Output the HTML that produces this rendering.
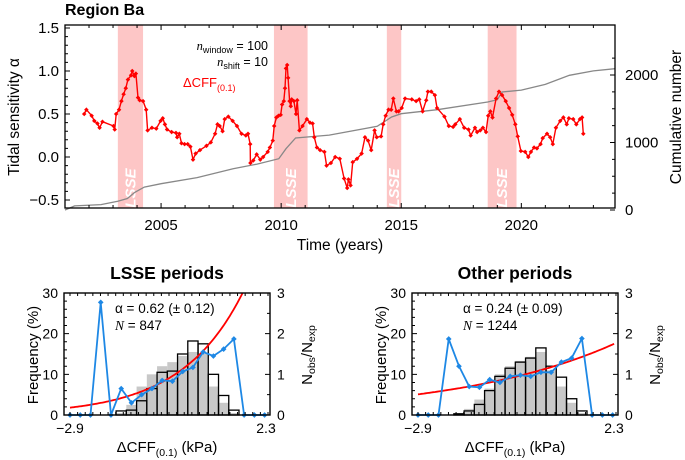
<!DOCTYPE html>
<html><head><meta charset="utf-8"><style>
body{margin:0;background:#fff;}
svg{display:block;font-family:"Liberation Sans",sans-serif;}
</style></head><body>
<svg id="s" width="685" height="460" viewBox="0 0 685 460"></svg>
<script>
// ---- top chart data ----
const lsseStart=[2003.2,2009.7,2014.4,2018.6];
const lsseEnd=[2004.25,2011.1,2015.0,2019.8];
const alphaYears=[2001.80,2001.89,2002.11,2002.22,2002.35,2002.44,2002.56,2003.02,2003.07,2003.13,2003.25,2003.35,2003.44,2003.53,2003.62,2003.75,2003.80,2003.89,2003.95,2004.04,2004.11,2004.25,2004.38,2004.44,2004.62,2004.80,2004.98,2005.07,2005.16,2005.25,2005.44,2005.62,2005.67,2005.76,2005.85,2005.98,2006.11,2006.22,2006.33,2006.44,2006.62,2006.89,2007.07,2007.25,2007.35,2007.44,2007.56,2007.65,2007.80,2007.98,2008.16,2008.35,2008.53,2008.62,2008.71,2008.72,2008.84,2008.98,2009.13,2009.25,2009.44,2009.53,2009.65,2009.71,2009.80,2009.89,2009.98,2010.04,2010.11,2010.16,2010.20,2010.25,2010.29,2010.35,2010.40,2010.44,2010.53,2010.62,2010.67,2010.76,2010.89,2011.07,2011.20,2011.31,2011.38,2011.49,2011.62,2011.80,2011.89,2012.07,2012.25,2012.44,2012.62,2012.75,2012.80,2012.89,2012.98,2013.16,2013.35,2013.49,2013.62,2013.75,2013.89,2013.98,2014.16,2014.25,2014.35,2014.47,2014.58,2014.67,2014.80,2014.89,2015.02,2015.16,2015.44,2015.62,2015.75,2015.89,2016.04,2016.11,2016.25,2016.40,2016.49,2016.80,2016.98,2017.16,2017.25,2017.44,2017.62,2017.80,2017.89,2018.07,2018.16,2018.29,2018.40,2018.53,2018.62,2018.71,2018.80,2018.95,2019.07,2019.20,2019.35,2019.49,2019.62,2019.75,2019.85,2019.98,2020.16,2020.29,2020.40,2020.53,2020.65,2020.80,2020.89,2021.07,2021.20,2021.31,2021.44,2021.62,2021.75,2021.89,2021.98,2022.16,2022.29,2022.44,2022.53,2022.58];
const alphaValues=[0.5,0.55,0.48,0.42,0.39,0.34,0.41,0.36,0.32,0.5,0.55,0.65,0.73,0.8,0.9,0.95,1.0,0.94,0.97,0.69,0.66,0.65,0.55,0.31,0.34,0.33,0.42,0.45,0.38,0.32,0.29,0.28,0.23,0.27,0.16,0.15,0.15,0.12,-0.03,0.04,0.08,0.13,0.17,0.27,0.38,0.36,0.3,0.44,0.47,0.42,0.36,0.27,0.25,0.27,0.15,-0.07,-0.04,0.03,-0.03,0.0,0.06,0.11,0.19,0.36,0.46,0.48,0.49,0.61,0.65,0.8,1.03,1.07,0.92,0.65,0.59,0.67,0.65,0.5,0.66,0.31,0.36,0.44,0.4,0.39,0.23,0.11,0.08,0.06,-0.1,-0.07,0.0,-0.02,-0.25,-0.36,-0.26,-0.33,-0.06,-0.02,0.04,0.23,0.19,0.08,0.31,0.23,0.24,0.38,0.48,0.55,0.55,0.68,0.53,0.53,0.57,0.68,0.67,0.65,0.67,0.53,0.66,0.76,0.76,0.72,0.57,0.47,0.36,0.35,0.38,0.44,0.34,0.32,0.25,0.34,0.29,0.31,0.34,0.29,0.48,0.53,0.46,0.68,0.76,0.72,0.65,0.57,0.49,0.38,0.24,0.07,0.06,0.0,0.06,0.11,0.1,0.15,0.22,0.27,0.23,0.15,0.34,0.42,0.46,0.38,0.45,0.44,0.38,0.44,0.46,0.27];
const cumYears=[2001.0,2001.4,2002.5,2003.2,2003.6,2003.9,2004.3,2005.0,2006.5,2008.0,2009.0,2009.9,2010.2,2010.6,2012.0,2014.0,2014.6,2015.0,2016.5,2018.6,2019.0,2019.2,2020.0,2021.0,2022.0,2023.0,2023.9];
const cumValues=[0,60,80,130,170,260,340,390,480,612,680,760,908,1067,1110,1240,1378,1427,1486,1600,1634,1748,1777,1860,1995,2060,2093];
const alphaTicks=[-0.5,0.0,0.5,1.0,1.5];
const alphaTickLabels=["\u22120.5","0.0","0.5","1.0","1.5"];
const yearTicks=[2005,2010,2015,2020];
const cumTicks=[0,1000,2000];

// ---- bottom panels data ----
const binIndex=[0,1,2,3,4,5,6,7,8,9,10,11,12,13,14,15,16,17,18,19];
const lsseRatio=[0,0,0,2.77,0,0.65,0.3,0.5,0.65,0.85,0.83,1.07,1.17,1.55,1.45,1.62,1.87,0,0,0];
const lsseObs=[0,0,0,0,0,1,1.2,3.5,6.5,10.5,10.8,15,18.2,17.5,10,4.8,1.2,0,0,0];
const lsseExp=[0,0,0,0,0,0.5,2.5,7,10,12,13,14.5,15.5,15,7,3,0.5,0,0,0];
const otherRatio=[0,0,0,1.87,1.2,0.7,0.68,0.87,0.8,0.95,0.98,0.95,1.05,1.05,1.3,1.4,1.88,0,0,0];
const otherObs=[0,0,0,0,0.3,1.0,2.6,6,9.5,11.5,13,14,16.5,12,9.3,4,1,0,0,0];
const otherExp=[0,0,0,0,0.2,1.5,3.8,6.5,10,12,13.3,14.3,15.5,11,7,3,0.5,0,0,0];
const fitAlpha=[0.62,0.24];
const fitScale=[1.09,1.02];

(function(){
const NS="http://www.w3.org/2000/svg";
const svg=document.getElementById('s');
function el(tag,attrs,parent){const e=document.createElementNS(NS,tag);for(const k in attrs)e.setAttribute(k,attrs[k]);(parent||svg).appendChild(e);return e;}
function txt(s,x,y,attrs,parent){const t=el('text',Object.assign({x:x,y:y},attrs),parent);t.textContent=String(s);return t;}

const L=65,R=615,T=25,B=208;
const xY=y=>L+(y-2001.0)*(R-L)/(2023.9-2001.0);
const yA=a=>157-a*86;
const yC=c=>210-c*0.0675;
const topG=el('g',{});


for(let i=0;i<lsseStart.length;i++){
  const r=el('rect',{x:xY(lsseStart[i]),y:T,width:xY(lsseEnd[i])-xY(lsseStart[i]),height:B-T,fill:'#fdc6c6'},topG);
  
  
  const cx=(xY(lsseStart[i])+xY(lsseEnd[i]))/2;
  const t=txt('LSSE',cx+5,188,{fill:'#fff','font-size':'15','font-weight':'bold','font-style':'italic','text-anchor':'middle',transform:`rotate(-90 ${cx+5} 188)`},topG);
  
  
}
let d='';
for(let i=0;i<cumYears.length;i++){d+=(i?'L':'M')+xY(cumYears[i]).toFixed(1)+' '+yC(cumValues[i]).toFixed(1);}
const cl=el('path',{d:d,fill:'none',stroke:'#888','stroke-width':'1.3'},topG);


d='';
for(let i=0;i<alphaYears.length;i++){d+=(i?'L':'M')+xY(alphaYears[i]).toFixed(1)+' '+yA(alphaValues[i]).toFixed(1);}
const al=el('path',{d:d,fill:'none',stroke:'#f00','stroke-width':'1.4'},topG);


for(let i=0;i<alphaYears.length;i++){
  const p=el('rect',{x:xY(alphaYears[i])-1.6,y:yA(alphaValues[i])-1.6,width:3.2,height:3.2,fill:'#f00',transform:`rotate(45 ${xY(alphaYears[i])} ${yA(alphaValues[i])})`},topG);
  
  
}
const fr=el('rect',{x:L,y:T,width:R-L,height:B-T,fill:'none',stroke:'#000','stroke-width':'1.3'},topG);


let tk='';
for(let y=2001;y<=2023;y++){const x=xY(y);const l=(y%5==0)?5:3;tk+=`M${x} ${B}v${-l}M${x} ${T}v${l}`;}
for(let k=0;k<=20;k++){const a=-0.5+k*0.1;const y=yA(a);const major=(k%5==0);tk+=`M${L} ${y}h${major?5:3}`;}
for(let c=0;c<=2400;c+=250){const y=yC(c);tk+=`M${R} ${y}h${c%1000==0?-5:-3}`;}
el('path',{d:tk,stroke:'#000','stroke-width':'1'},topG);
alphaTicks.forEach((a,i)=>{const t=txt(alphaTickLabels[i],L-6,yA(a)+5,{'font-size':'15','text-anchor':'end'},topG);});
yearTicks.forEach(y=>{const t=txt(y,xY(y),230,{'font-size':'15','text-anchor':'middle'},topG);});
cumTicks.forEach(c=>{const t=txt(c,R+10,yC(c)+5,{'font-size':'15'},topG);});
})();
</script>
<script>
(function(){
const svg=document.getElementById('s');
function add(html){svg.insertAdjacentHTML('beforeend',html);}
add('<text x="65" y="15" font-size="16" font-weight="bold">Region Ba</text>');
add('<text x="0" y="0" font-size="15.5" text-anchor="middle" transform="translate(19 117) rotate(-90)">Tidal sensitivity α</text>');
add('<text x="0" y="0" font-size="15.5" text-anchor="middle" transform="translate(681 117) rotate(-90)">Cumulative number</text>');
add('<text x="340" y="250" font-size="15.5" text-anchor="middle">Time (years)</text>');
add('<text x="268" y="50" font-size="12.5" text-anchor="end"><tspan font-style="italic" font-family="Liberation Serif">n</tspan><tspan font-size="9" dy="3">window</tspan><tspan dy="-3"> = 100</tspan></text>');
add('<text x="268" y="66" font-size="12.5" text-anchor="end"><tspan font-style="italic" font-family="Liberation Serif">n</tspan><tspan font-size="9" dy="3">shift</tspan><tspan dy="-3"> = 10</tspan></text>');
add('<text x="183" y="87" font-size="13" fill="#f00">ΔCFF<tspan font-size="9" dy="4">(0.1)</tspan></text>');
})();
</script>
<script>
(function(){
const NS="http://www.w3.org/2000/svg";
const svg=document.getElementById('s');
function el(tag,attrs,parent){const e=document.createElementNS(NS,tag);for(const k in attrs)e.setAttribute(k,attrs[k]);(parent||svg).appendChild(e);return e;}
const panels=[
 {L:64,title:'LSSE periods',ratio:lsseRatio,obs:lsseObs,exp:lsseExp,a:fitAlpha[0],c:fitScale[0],ann1:'α = 0.62 (± 0.12)',ann2:'847',name:'lsse-panel'},
 {L:412,title:'Other periods',ratio:otherRatio,obs:otherObs,exp:otherExp,a:fitAlpha[1],c:fitScale[1],ann1:'α = 0.24 (± 0.09)',ann2:'1244',name:'other-panel'}];
const T=293,B=415,W=206;
panels.forEach(p=>{
  const g=el('g',{});
  
  
  const L=p.L,R=L+W;
  const xK=k=>L+6+(k+2.9)*(198/5.2);
  const binK=i=>-2.9+i*0.269;
  const bw=0.269*198/5.2;
  const yF=f=>B-f*(B-T)/30;
  const yR=r=>B-r*(B-T)/3;
  binIndex.forEach(i=>{
    if(p.exp[i]>0){const r=el('rect',{x:xK(binK(i))-bw/2,y:yF(p.exp[i]),width:bw,height:B-yF(p.exp[i]),fill:'#c8c8c8'},g);
    
    }
  });
  binIndex.forEach(i=>{
    if(p.obs[i]>0){const r=el('rect',{x:xK(binK(i))-bw/2,y:yF(p.obs[i]),width:bw,height:B-yF(p.obs[i]),fill:'none',stroke:'#000','stroke-width':'1.3'},g);
    
    }
  });
  let d='';let first=true;
  for(let k=-2.9;k<=2.26;k+=0.05){const r=p.c*Math.exp(p.a*k);let y=yR(r);if(y<T){break;}d+=(first?'M':'L')+xK(k).toFixed(1)+' '+y.toFixed(1);first=false;}
  const kt=Math.log(3/p.c)/p.a; if(kt<2.26) d+='L'+xK(kt).toFixed(1)+' '+T;
  const fc=el('path',{d:d,fill:'none',stroke:'#f00','stroke-width':'1.8'},g);
  
  
  d='';
  binIndex.forEach(i=>{d+=(i?'L':'M')+xK(binK(i)).toFixed(1)+' '+yR(p.ratio[i]).toFixed(1);});
  const bl=el('path',{d:d,fill:'none',stroke:'#1e88e5','stroke-width':'1.8'},g);
  
  
  binIndex.forEach(i=>{const x=xK(binK(i)),y=yR(p.ratio[i]);
    const m=el('rect',{x:x-2,y:y-2,width:4,height:4,fill:'#1e88e5',transform:`rotate(45 ${x} ${y})`},g);
    
    });
  const f=el('rect',{x:L,y:T,width:W,height:B-T,fill:'none',stroke:'#000','stroke-width':'1.4'},g);
  
  
  let tk='';
  for(let v=0;v<=30;v+=2){const y=yF(v);tk+=`M${L} ${y}h${v%10==0?5:3}`;}
  for(let v=0;v<=3;v+=0.5){const y=yR(v);tk+=`M${R} ${y}h${v%1==0?-5:-3}`;}
  for(let k=-2.9;k<=2.31;k+=0.2){const x=xK(k);tk+=`M${x} ${T}v3M${x} ${B}v-3`;}
  el('path',{d:tk,stroke:'#000','stroke-width':'1'},g);
  let h='';
  [0,10,20,30].forEach(v=>{h+=`<text x="${L-6}" y="${yF(v)+5}" font-size="14" text-anchor="end">${v}</text>`;});
  [0,1,2,3].forEach(v=>{h+=`<text x="${R+7}" y="${yR(v)+5}" font-size="14">${v}</text>`;});
  h+=`<text x="${xK(-2.9)}" y="433" font-size="14" text-anchor="middle">−2.9</text>`;
  h+=`<text x="${xK(2.3)-2}" y="433" font-size="14" text-anchor="middle">2.3</text>`;
  h+=`<text x="${L+W/2}" y="279" font-size="17.5" font-weight="bold" text-anchor="middle">${p.title}</text>`;
  h+=`<text x="${L+51}" y="313" font-size="13.5">${p.ann1}</text>`;
  h+=`<text x="${L+51}" y="330" font-size="13.5"><tspan font-style="italic" font-family="Liberation Serif">N</tspan> = ${p.ann2}</text>`;
  h+=`<text x="0" y="0" font-size="15" text-anchor="middle" transform="translate(${L-26} 355) rotate(-90)">Frequency (%)</text>`;
  h+=`<text x="0" y="0" font-size="15" text-anchor="middle" transform="translate(${R+42} 355) rotate(-90)">N<tspan font-size="10.5" dy="3">obs</tspan><tspan dy="-3">/N</tspan><tspan font-size="10.5" dy="3">exp</tspan></text>`;
  h+=`<text x="${L+W/2}" y="452" font-size="15" text-anchor="middle">ΔCFF<tspan font-size="10.5" dy="4">(0.1)</tspan><tspan dy="-4"> (kPa)</tspan></text>`;
  g.insertAdjacentHTML('beforeend',h);
});
})();
</script>
</body></html>
